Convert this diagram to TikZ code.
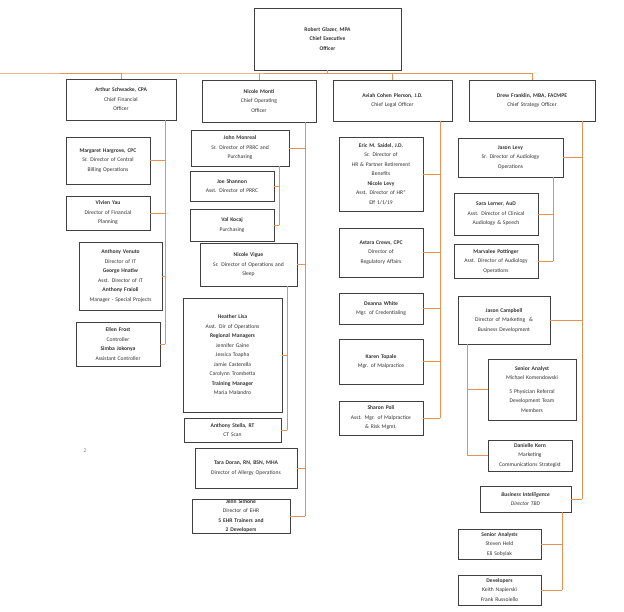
\documentclass[tikz,border=0pt]{standalone}
\usepackage{fontspec}
\setmainfont{Carlito}
\begin{document}
\begin{tikzpicture}[x=1pt,y=-1pt,
  box/.style={draw=black!75,line width=0.9pt,fill=white,inner sep=0pt,align=center,font=\fontsize{5.6}{9.5}\selectfont,text=black!80},
  ln/.style={draw={rgb,255:red,232;green,145;blue,85},line width=0.9pt}]
\useasboundingbox[fill=white] (0,0) rectangle (624,611);
\newcommand\bx[6]{\node[box,minimum width={(#4-#2)*1pt},minimum height={(#5-#3)*1pt},text width=\dimexpr#4pt-#2pt-2pt\relax] (#1) at ({(#2+#4)/2},{(#3+#5)/2}) {#6};}
% spines coordinates
\coordinate (bus) at (0,73);
\coordinate (cfoS) at (165,0);
\coordinate (cooS) at (305,0);
\coordinate (jmS) at (279,0);
\coordinate (nvS) at (287,0);
\coordinate (cloS) at (440,0);
\coordinate (csoS) at (582,0);
\coordinate (jlS) at (553,0);
\coordinate (jcS) at (467,0);
\coordinate (biS) at (562,0);
% boxes
\bx{ceo}{254}{8}{401}{70}{\textbf{Robert Glazer, MPA}\\\textbf{Chief Executive}\\\textbf{Officer}}
\bx{cfo}{66}{79}{176}{120}{\textbf{Arthur Schwacke, CPA}\\Chief Financial\\Officer}
\bx{coo}{202}{80}{316}{122}{\textbf{Nicole Monti}\\Chief Operating\\Officer}
\bx{clo}{333}{80}{452}{121}{\textbf{Aviah Cohen Pierson, J.D.}\\Chief Legal Officer}
\bx{cso}{469}{80}{595}{121}{\textbf{Drew Franklin, MBA, FACMPE}\\Chief Strategy Officer}
\bx{marg}{66}{137}{150}{184}{\textbf{Margaret Hargrove, CPC}\\Sr. Director of Central\\Billing Operations}
\bx{viv}{66}{196}{150}{230}{\textbf{Vivien Yau}\\Director of Financial\\Planning}
\bx{ant}{79}{242}{162}{310}{\textbf{Anthony Venuto}\\Director of IT\\\textbf{George Hnatiw}\\Asst. Director of IT\\\textbf{Anthony Fraioli}\\Manager - Special Projects}
\bx{ellen}{76}{322}{160}{366}{\textbf{Ellen Frost}\\Controller\\\textbf{Simba Jokonya}\\Assistant Controller}
\bx{jm}{191}{130}{289}{166}{\textbf{John Monreal}\\Sr. Director of PRRC and\\Purchasing}
\bx{joe}{190}{171}{274}{201}{\textbf{Joe Shannon}\\Asst. Director of PRRC}
\bx{val}{190}{209}{274}{241}{\textbf{Val Kocaj}\\Purchasing}
\bx{nv}{200}{243}{297}{286}{\textbf{Nicole Vigue}\\Sr. Director of Operations and\\Sleep}
\bx{heather}{183}{298}{282}{412}{\textbf{Heather Lisa}\\Asst. Dir of Operations\\\textbf{Regional Managers}\\Jennifer Gaine\\Jessica Toapha\\Jamie Casterella\\Carolynn Trombetta\\\textbf{Training Manager}\\Maria Malandro}
\bx{stella}{184}{418}{281}{442}{\textbf{Anthony Stella, RT}\\CT Scan}
\bx{tara}{195}{448}{297}{488}{\textbf{Tara Doran, RN, BSN, MHA}\\Director of Allergy Operations}
\bx{jenn}{192}{499}{290}{533}{\textbf{Jenn Simone}\\Director of EHR\\\textbf{5 EHR Trainers and}\\\textbf{2 Developers}}
\bx{eric}{339}{137}{423}{211}{\textbf{Eric M. Saidel, J.D.}\\Sr. Director of\\HR \& Partner Retirement\\Benefits\\\textbf{Nicole Levy}\\Asst. Director of HR*\\Eff 1/1/19}
\bx{astara}{339}{228}{423}{277}{\textbf{Astara Crews, CPC}\\Director of\\Regulatory Affairs}
\bx{deanna}{339}{293}{423}{324}{\textbf{Deanna White}\\Mgr. of Credentialing}
\bx{karen}{339}{339}{423}{384}{\textbf{Karen Topale}\\Mgr. of Malpractice}
\bx{sharon}{339}{401}{423}{435}{\textbf{Sharon Poli}\\Asst. Mgr. of Malpractice\\\& Risk Mgmt.}
\bx{jl}{458}{138}{563}{177}{\textbf{Jason Levy}\\Sr. Director of Audiology\\Operations}
\bx{sara}{454}{193}{538}{235}{\textbf{Sara Lerner, AuD}\\Asst. Director of Clinical\\Audiology \& Speech}
\bx{marv}{454}{244}{538}{278}{\textbf{Marvalee Pottinger}\\Asst. Director of Audiology\\Operations}
\bx{jc}{458}{296}{550}{344}{\textbf{Jason Campbell}\\Director of Marketing \ \&\\Business Development}
\bx{sa}{488}{359}{576}{420}{\textbf{Senior Analyst}\\Michael Komendowski\\[4pt]5 Physician Referral\\Development Team\\Members}
\bx{dk}{488}{440}{572}{471}{\textbf{Danielle Kern}\\Marketing\\Communications Strategist}
\bx{bi}{480}{486}{571}{512}{\textbf{\textit{Business Intelligence}}\\\textit{Director TBD}}
\bx{sas}{458}{529}{541}{559}{\textbf{Senior Analysts}\\Steven Held\\Eli Sobylak}
\bx{dev}{458}{575}{541}{605}{\textbf{Developers}\\Keith Napierski\\Frank Russoiello}
\node[font=\fontsize{5.6}{7}\selectfont,text=black!50] (two) at (85,451) {2};
% connectors
\begin{scope}[on background layer/.style={}]
\draw[ln] (ceo.south) -- (ceo.south |- bus);
\draw[ln] (cfo.north) |- (bus) -| (cso.north);
\draw[ln] (bus -| coo.north) -- (coo.north);
\draw[ln] (bus -| clo.north) -- (clo.north);
\draw[ln] (cfo.south -| cfoS) -- (ellen.east -| cfoS);
\foreach \n in {marg,viv,ant,ellen} \draw[ln] (\n.east) -- (\n.east -| cfoS);
\draw[ln] (coo.south -| cooS) -- (jenn.east -| cooS);
\foreach \n in {jm,nv,tara,jenn} \draw[ln] (\n.east) -- (\n.east -| cooS);
\draw[ln] (jm.south -| jmS) -- (val.east -| jmS);
\foreach \n in {joe,val} \draw[ln] (\n.east) -- (\n.east -| jmS);
\draw[ln] (nv.south -| nvS) -- (stella.east -| nvS);
\foreach \n in {heather,stella} \draw[ln] (\n.east) -- (\n.east -| nvS);
\draw[ln] (clo.south -| cloS) -- (sharon.east -| cloS);
\foreach \n in {eric,astara,deanna,karen,sharon} \draw[ln] (\n.east) -- (\n.east -| cloS);
\draw[ln] (cso.south -| csoS) -- (bi.east -| csoS);
\foreach \n in {jl,jc,bi} \draw[ln] (\n.east) -- (\n.east -| csoS);
\draw[ln] (jl.south -| jlS) -- (marv.east -| jlS);
\foreach \n in {sara,marv} \draw[ln] (\n.east) -- (\n.east -| jlS);
\draw[ln] (jc.south -| jcS) -- (dk.west -| jcS);
\foreach \n in {sa,dk} \draw[ln] (\n.west) -- (\n.west -| jcS);
\draw[ln] (bi.south -| biS) -- (dev.east -| biS);
\foreach \n in {sas,dev} \draw[ln] (\n.east) -- (\n.east -| biS);
\end{scope}
\end{tikzpicture}
\end{document}
